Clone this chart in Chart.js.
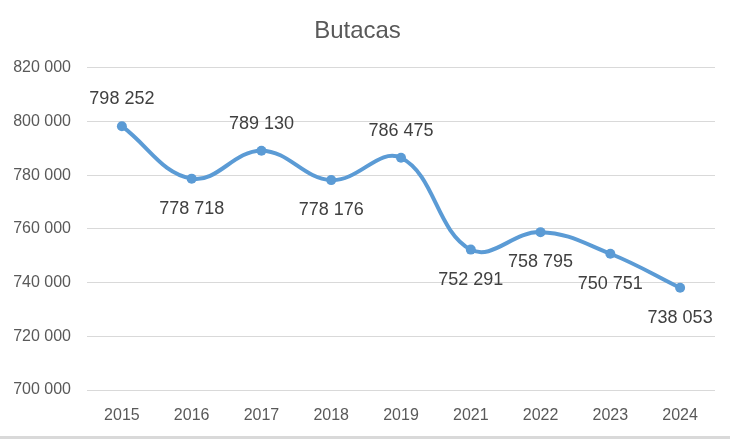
<!DOCTYPE html>
<html>
<head>
<meta charset="utf-8">
<script src="https://cdn.jsdelivr.net/npm/chart.js@4/dist/chart.umd.min.js"></script>
<style>
  html, body { margin: 0; padding: 0; background: #fff; }
  #wrap { width: 730px; height: 440px; }
</style>
</head>
<body>
<div id="wrap"><canvas id="c" width="730" height="440"></canvas></div>
<script>
const years = ['2015', '2016', '2017', '2018', '2019', '2021', '2022', '2023', '2024']
const seats = [798252, 778718, 789130, 778176, 786475, 752291, 758795, 750751, 738053]
const labelSide = ['above', 'below', 'above', 'below', 'above', 'below', 'below', 'below', 'below']

const fmt = v => String(v).replace(/\B(?=(\d{3})+(?!\d))/g, ' ')
const FONT = '"Liberation Sans", Arial, sans-serif'

// white background + light bottom frame line
const frame = {
  id: 'frame',
  beforeDraw(chart) {
    const ctx = chart.ctx
    ctx.save()
    ctx.fillStyle = '#fff'
    ctx.fillRect(0, 0, chart.width, chart.height)
    ctx.fillStyle = '#d9d9d9'
    ctx.fillRect(0, chart.height - 4, chart.width, 3)
    ctx.restore()
  }
}

// value labels above / below each point
const valueLabels = {
  id: 'valueLabels',
  afterDatasetsDraw(chart) {
    const ctx = chart.ctx
    const meta = chart.getDatasetMeta(0)
    ctx.save()
    ctx.font = '18px ' + FONT
    ctx.fillStyle = '#404040'
    ctx.textAlign = 'center'
    ctx.textBaseline = 'middle'
    meta.data.forEach((pt, i) => {
      const dy = labelSide[i] === 'above' ? -27 : 30
      ctx.fillText(fmt(seats[i]), pt.x, pt.y + dy)
    })
    ctx.restore()
  }
}

new Chart(document.getElementById('c').getContext('2d'), {
  type: 'line',
  data: {
    labels: years,
    datasets: [{
      label: 'Butacas',
      data: seats,
      borderColor: '#5b9bd5',
      backgroundColor: '#5b9bd5',
      borderWidth: 4,
      tension: 0.4,
      pointRadius: 5,
      pointHoverRadius: 5,
      pointBackgroundColor: '#5b9bd5',
      pointBorderWidth: 0
    }]
  },
  options: {
    responsive: false,
    animation: false,
    events: [],
    layout: { padding: { left: 0, right: 15, top: 0, bottom: 10 } },
    plugins: {
      legend: { display: false },
      tooltip: { enabled: false },
      title: {
        display: true,
        text: 'Butacas',
        color: '#595959',
        font: { family: FONT, size: 24, weight: 'normal' },
        padding: { top: 17, bottom: 22 }
      }
    },
    scales: {
      x: {
        offset: true,
        grid: { display: false, offset: true },
        border: { display: false },
        ticks: {
          color: '#595959',
          font: { family: FONT, size: 16 },
          padding: 8
        },
        afterFit: s => { s.height = 40 }
      },
      y: {
        min: 700000,
        max: 820000,
        grid: { color: '#d9d9d9', lineWidth: 1, drawTicks: false },
        border: { display: false },
        ticks: {
          stepSize: 20000,
          color: '#595959',
          font: { family: FONT, size: 16 },
          padding: 16,
          callback: v => fmt(v)
        },
        afterFit: s => { s.width = 87 }
      }
    }
  },
  plugins: [frame, valueLabels]
})
</script>
</body>
</html>
